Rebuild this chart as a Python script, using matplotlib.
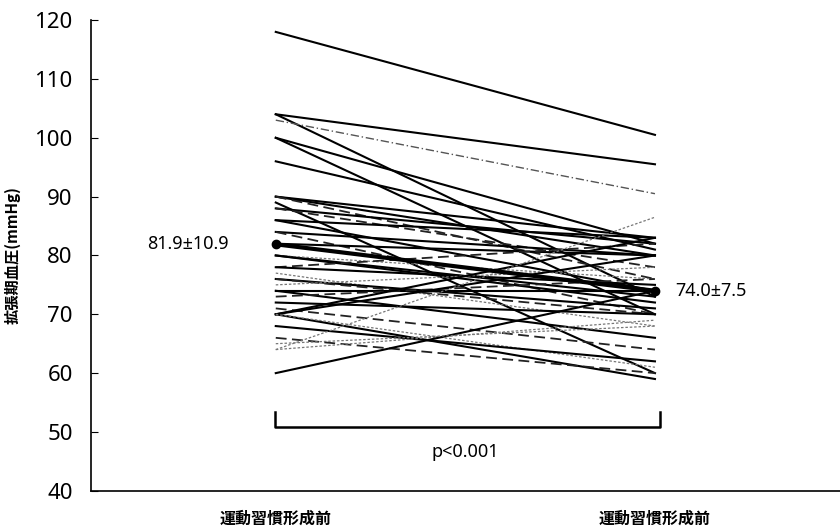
import matplotlib.pyplot as plt

plt.rcParams['font.family'] = ['Noto Sans', 'Noto Sans CJK JP', 'DejaVu Sans']

# paired values: before / after, with line style per subject
before = [118, 104, 104, 103, 100, 100, 96, 90, 90, 90,
          89, 88, 88, 86, 86, 84, 84, 82, 80, 80,
          80, 78, 78, 77, 76, 76, 75, 74, 74, 73,
          72, 71, 70, 70, 70, 70, 68, 66, 64, 64,
          60, 65]
after = [100.5, 95.5, 73, 90.5, 82, 70, 81, 80, 83, 76,
         60, 82, 78, 83, 74, 80, 70, 80, 73, 76,
         72, 82, 75, 68, 71, 70, 78, 74, 66, 76,
         70, 64, 83, 80, 59, 61, 62, 60, 86.5, 69,
         74, 68]
kinds = ["s", "s", "s", "dd", "s", "s", "s", "s", "s", "d",
         "s", "s", "d", "s", "s", "s", "d", "s", "s", "g",
         "s", "d", "s", "g", "s", "d", "g", "s", "s", "d",
         "s", "d", "s", "s", "s", "g", "s", "d", "g", "g",
         "s", "g"]

mean_vals = [81.9, 74.0]
mean_labels = ["81.9±10.9", "74.0±7.5"]
x_labels = ["運動習慣形成前", "運動習慣形成前"]

styles = {
    "s": dict(color="black", linestyle="-", linewidth=1.5),
    "d": dict(color="#222222", linestyle=(0, (6, 3)), linewidth=1.3),
    "g": dict(color="#777777", linestyle=(0, (2, 1.5)), linewidth=0.9),
    "dd": dict(color="#555555", linestyle=(0, (6, 2, 1, 2)), linewidth=1.0),
}

fig = plt.figure(figsize=(8.4, 5.3), dpi=100)
ax = fig.add_axes([0.108, 0.074, 0.892, 0.888])

for b, a, k in zip(before, after, kinds):
    ax.plot([0, 1], [b, a], **styles[k])

ax.plot([0, 1], mean_vals, color="black", linewidth=3, marker="o", markersize=6, zorder=5)

ax.text(-0.124, mean_vals[0], mean_labels[0], ha="right", va="center",
        fontsize=13, fontweight="medium")
ax.text(1.053, mean_vals[1], mean_labels[1], ha="left", va="center",
        fontsize=13, fontweight="medium")

# significance bracket
ax.plot([-0.003, -0.003, 1.013, 1.013], [53.4, 50.9, 50.9, 53.4], color="black", linewidth=1.8)
ax.text(0.5, 46.6, "p<0.001", ha="center", va="center", fontsize=13, fontweight="medium")

ax.set_xlim(-0.488, 1.488)
ax.set_ylim(40, 120)
ax.set_yticks(range(40, 121, 10))
ax.set_xticks([0, 1])
ax.set_xticklabels(x_labels, fontsize=11.5, fontweight="bold", family=["Noto Sans CJK JP"])
ax.tick_params(axis="x", length=0, pad=14)
ax.tick_params(axis="y", direction="in", length=5, labelsize=16, pad=13)
for lbl in ax.get_yticklabels():
    lbl.set_fontweight("medium")
ax.set_ylabel("拡張期血圧(mmHg)", fontsize=11, fontweight="bold", labelpad=10,
              family=["Noto Sans CJK JP"])

ax.spines["top"].set_visible(False)
ax.spines["right"].set_visible(False)
ax.spines["left"].set_linewidth(1.2)
ax.spines["bottom"].set_linewidth(1.2)

fig.savefig("out.png", dpi=100)
